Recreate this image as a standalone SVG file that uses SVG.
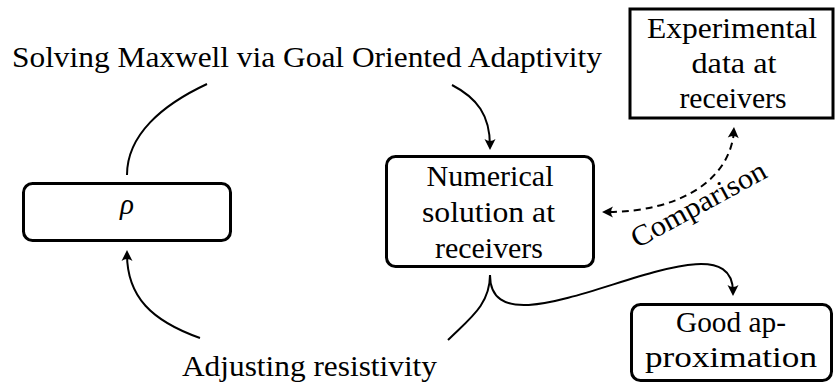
<svg xmlns="http://www.w3.org/2000/svg" width="835" height="385" viewBox="0 0 835 385" font-family="Liberation Serif, serif">
<style>
text{font-family:"Liberation Serif",serif !important;font-size:29px;fill:#000;text-anchor:middle}
.box{fill:#fff;stroke:#000;stroke-width:3}
.c{fill:none;stroke:#000;stroke-width:2}
.d{stroke-dasharray:7 5}
</style>
<defs>
<path id="ah" d="M0,0 L-11,-5.5 Q-7,0 -11,5.5 Z" fill="#000"/>
</defs>
<rect width="835" height="385" fill="#fff"/>
<g id="connectors">
<path class="c" d="M127,175 C127,135 162,105 207,84"/>
<path class="c" d="M452,85 C477,98 490,115 490,146"/>
<use href="#ah" transform="translate(490,150) rotate(90)"/>
<path class="c" d="M490,275 C490,305 469,319 448,340"/>
<path class="c" d="M200,338 C152,321 127,297 127,254"/>
<use href="#ah" transform="translate(127,250) rotate(-90)"/>
<path class="c" d="M490,275 C490,370 733,201 733,292"/>
<use href="#ah" transform="translate(733,296) rotate(90)"/>
<path class="c d" d="M734,131 C730,180 680,212 606,212"/>
<use href="#ah" transform="translate(734,127) rotate(-86)"/>
<use href="#ah" transform="translate(602,212) rotate(180)"/>
</g>
<g id="label-solving">
<text x="307" y="67" textLength="590" lengthAdjust="spacingAndGlyphs">Solving Maxwell via Goal Oriented Adaptivity</text>
</g>
<g id="label-adjusting">
<text x="309.5" y="376" textLength="255" lengthAdjust="spacingAndGlyphs">Adjusting resistivity</text>
</g>
<g id="label-comparison">
<text x="703" y="212.5" textLength="150" lengthAdjust="spacingAndGlyphs" transform="rotate(-28.6 703 212.5)">Comparison</text>
</g>
<g id="node-rho">
<rect class="box" x="23.5" y="183.5" width="207" height="57" rx="9"/>
<text x="127" y="214" font-style="italic">ρ</text>
</g>
<g id="node-numerical">
<rect class="box" x="386.5" y="156.5" width="207" height="110" rx="9"/>
<text x="490" y="186" textLength="127" lengthAdjust="spacingAndGlyphs">Numerical</text>
<text x="488.5" y="222" textLength="133" lengthAdjust="spacingAndGlyphs">solution at</text>
<text x="489" y="258" textLength="108" lengthAdjust="spacingAndGlyphs">receivers</text>
</g>
<g id="node-experimental">
<rect class="box" x="630" y="9" width="203" height="109"/>
<text x="732" y="38" textLength="170" lengthAdjust="spacingAndGlyphs">Experimental</text>
<text x="734" y="73" textLength="85" lengthAdjust="spacingAndGlyphs">data at</text>
<text x="733" y="108" textLength="107" lengthAdjust="spacingAndGlyphs">receivers</text>
</g>
<g id="node-good">
<rect class="box" x="631.5" y="304.5" width="200" height="76" rx="9"/>
<text x="731" y="332" textLength="110" lengthAdjust="spacingAndGlyphs">Good ap-</text>
<text x="731" y="367" textLength="172" lengthAdjust="spacingAndGlyphs">proximation</text>
</g>
</svg>
